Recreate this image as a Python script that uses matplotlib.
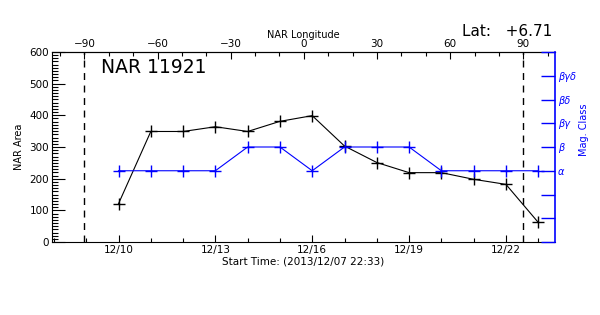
import numpy as np
from matplotlib import pyplot as plt
from matplotlib.ticker import MultipleLocator, FixedLocator

# days of December 2013
days = [10, 11, 12, 13, 14, 15, 16, 17, 18, 19, 20, 21, 22, 23]
area = [121, 349, 349, 364, 349, 381, 399, 303, 251, 219, 219, 198, 182, 62]
mag_class = [3, 3, 3, 3, 4, 4, 3, 4, 4, 4, 3, 3, 3, 3]

mag_labels = ["", "", "", "\u03b1", "\u03b2", "\u03b2\u03b3", "\u03b2\u03b4", "\u03b2\u03b3\u03b4", ""]
day_ticks = [10, 13, 16, 19, 22]
day_labels = ["12/10", "12/13", "12/16", "12/19", "12/22"]
lon_ticks = [-90, -60, -30, 0, 30, 60, 90]

x_start = 7 + 22.55 / 24   # 2013/12/07 22:33
x_end = 23.52
lon_zero = 15.74           # day when longitude is 0
deg_per_day = 13.24

BLUE = "#0000ff"


def day2lon(d):
    return (np.asarray(d) - lon_zero) * deg_per_day


def lon2day(l):
    return np.asarray(l) / deg_per_day + lon_zero


plt.rcParams["font.family"] = "DejaVu Sans"
fig = plt.figure(figsize=(6, 3.15), dpi=100)
ax = fig.add_axes([52 / 600, 73 / 315, 503 / 600, 190 / 315])

ax.plot(days, area, color="black", lw=0.8, marker="+", ms=8, mew=1)
for l in (-90, 90):
    ax.axvline(lon2day(l), color="black", ls=(0, (5, 4)), lw=1)

ax.set_xlim(x_start, x_end)
ax.set_ylim(0, 600)
ax.xaxis.set_major_locator(FixedLocator(day_ticks))
ax.set_xticklabels(day_labels)
ax.xaxis.set_minor_locator(MultipleLocator(1))
ax.yaxis.set_major_locator(MultipleLocator(100))
ax.yaxis.set_minor_locator(MultipleLocator(10))
ax.tick_params(axis="both", which="both", direction="in", labelsize=7.5, pad=2, width=0.8)
ax.tick_params(axis="x", which="major", length=5, top=False)
ax.tick_params(axis="x", which="minor", length=3, top=False)
ax.tick_params(axis="y", which="major", length=9, right=False)
ax.tick_params(axis="y", which="minor", length=4.5, right=False)
ax.set_xlabel("Start Time: (2013/12/07 22:33)", fontsize=7.5, labelpad=1)
ax.set_ylabel("NAR Area", fontsize=7, labelpad=4)
ax.spines["right"].set_visible(False)

# magnetic class axis
ax2 = ax.twinx()
ax2.plot(days, mag_class, color=BLUE, lw=0.8, marker="+", ms=8, mew=1)
ax2.set_ylim(0, 8)
ax2.set_yticks(range(9))
ax2.set_yticklabels(mag_labels, fontstyle="italic")
ax2.tick_params(axis="y", direction="in", length=10, width=1, color=BLUE,
                labelcolor=BLUE, labelsize=7, pad=2)
ax2.spines["right"].set_color(BLUE)
ax2.spines["right"].set_linewidth(1.2)
for s in ("left", "top", "bottom"):
    ax2.spines[s].set_visible(False)
fig.text(584 / 600, 1 - 130 / 315, "Mag. Class", color=BLUE, rotation=90,
         fontsize=7, ha="center", va="center")

# longitude axis on top
top = ax.secondary_xaxis("top", functions=(day2lon, lon2day))
top.xaxis.set_major_locator(FixedLocator(lon_ticks))
top.xaxis.set_minor_locator(MultipleLocator(10))
top.tick_params(which="major", direction="in", length=5, width=0.8, labelsize=7.5, pad=2)
top.tick_params(which="minor", direction="in", length=3, width=0.8)
top.set_xlabel("NAR Longitude", fontsize=7, labelpad=1)

fig.text(101 / 600, 1 - 73 / 315, "NAR 11921", fontsize=13.5, ha="left", va="baseline")
fig.text(552 / 600, 1 - 36 / 315, "Lat:   +6.71", fontsize=11, ha="right", va="baseline")

fig.savefig("out.png", dpi=100)
